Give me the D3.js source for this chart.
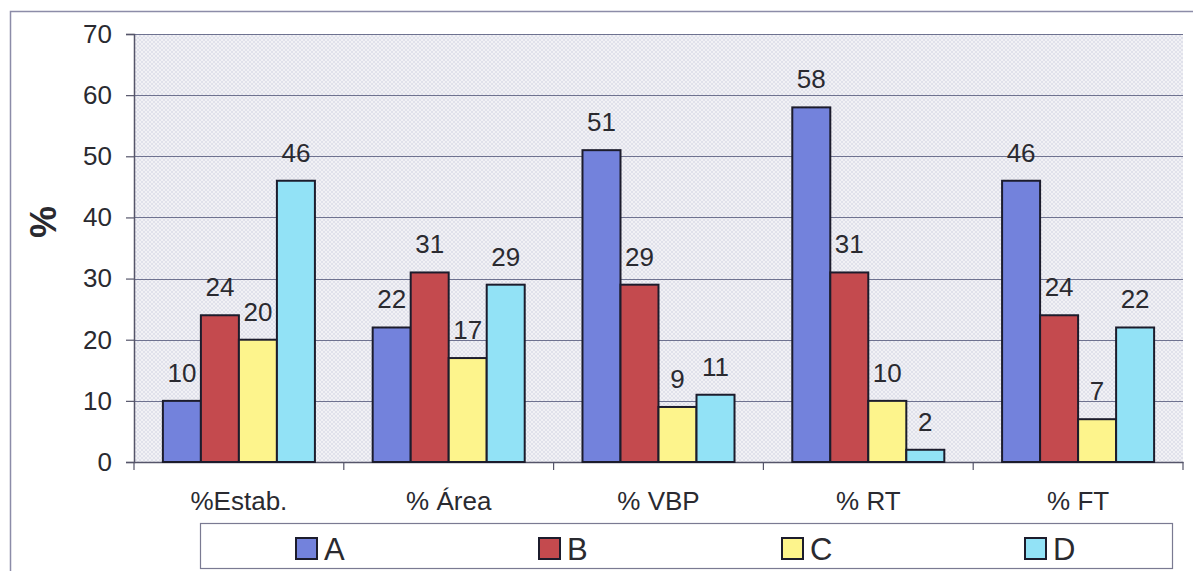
<!DOCTYPE html>
<html>
<head>
<meta charset="utf-8">
<script src="https://cdn.jsdelivr.net/npm/d3@7"></script>
<style>
  html, body { margin: 0; padding: 0; background: #fff; }
  svg { display: block; }
  text { font-family: "Liberation Sans", Arial, sans-serif; fill: #2a2a30; }
</style>
</head>
<body>
<svg id="chart" width="1193" height="571"></svg>
<script>
// Indicator categories along the x axis
const categories = ["%Estab.", "% Área", "% VBP", "% RT", "% FT"];
// Group names (one bar per group in every category)
const seriesNames = ["A", "B", "C", "D"];
// Percent values per group, in category order
const valuesA = [10, 22, 51, 58, 46];
const valuesB = [24, 31, 29, 31, 24];
const valuesC = [20, 17, 9, 10, 7];
const valuesD = [46, 29, 11, 2, 22];
// Y axis ticks
const yTicks = [0, 10, 20, 30, 40, 50, 60, 70];

const seriesValues = [valuesA, valuesB, valuesC, valuesD];
const colors = ["#7382dc", "#c44a4e", "#fdf48c", "#92e2f6"];

const svg = d3.select("#chart");
const W = 1193, H = 571;
const plot = { left: 134, right: 1183, top: 34, bottom: 462 };
const fontSize = "26px";

// outer chart frame
svg.append("rect")
  .attr("x", 10.5).attr("y", 11.5)
  .attr("width", W).attr("height", H)
  .attr("fill", "#fff").attr("stroke", "#8c8ca8").attr("stroke-width", 1.5);

// fine cross-hatch texture for the plot background
const defs = svg.append("defs");
const pat = defs.append("pattern")
  .attr("id", "hatch").attr("width", 4).attr("height", 4)
  .attr("patternUnits", "userSpaceOnUse");
pat.append("rect").attr("width", 4).attr("height", 4).attr("fill", "#f1f1f5");
pat.append("path").attr("d", "M0,0 L4,4 M4,0 L0,4")
  .attr("stroke", "#dcdde8").attr("stroke-width", 0.8);

const x0 = d3.scaleBand().domain(categories)
  .range([plot.left, plot.right]).paddingInner(0).paddingOuter(0);
const x1 = d3.scaleBand().domain(seriesNames)
  .range([0, x0.bandwidth()]).paddingOuter(0.76).paddingInner(0);
const y = d3.scaleLinear().domain([0, 70]).range([plot.bottom, plot.top]);

svg.append("rect")
  .attr("x", plot.left).attr("y", plot.top)
  .attr("width", plot.right - plot.left).attr("height", plot.bottom - plot.top)
  .attr("fill", "url(#hatch)");

// horizontal gridlines
svg.append("g").selectAll("line")
  .data(yTicks.filter(t => t > 0))
  .join("line")
  .attr("x1", plot.left).attr("x2", plot.right)
  .attr("y1", d => Math.round(y(d)) + 0.5).attr("y2", d => Math.round(y(d)) + 0.5)
  .attr("stroke", "#6e7290").attr("stroke-width", 1.2);

// y axis
const yAxis = svg.append("g")
  .attr("transform", `translate(${plot.left},0)`)
  .call(d3.axisLeft(y).tickValues(yTicks).tickSize(8).tickPadding(14));
yAxis.select(".domain").attr("stroke", "#55556a").attr("stroke-width", 1.5);
yAxis.selectAll(".tick line").attr("stroke", "#55556a").attr("stroke-width", 1.2);
yAxis.selectAll(".tick text")
  .style("font-family", "'Liberation Sans', Arial, sans-serif")
  .style("font-size", fontSize).attr("fill", "#2a2a30");

// x axis
const xAxis = svg.append("g")
  .attr("transform", `translate(0,${plot.bottom})`)
  .call(d3.axisBottom(x0).tickSize(0).tickPadding(30));
xAxis.select(".domain").attr("stroke", "#55556a").attr("stroke-width", 1.5);
xAxis.selectAll(".tick text")
  .style("font-family", "'Liberation Sans', Arial, sans-serif")
  .style("font-size", fontSize).attr("fill", "#2a2a30");
// category separator ticks
svg.append("g").selectAll("line")
  .data(d3.range(categories.length + 1))
  .join("line")
  .attr("x1", i => plot.left + i * x0.bandwidth())
  .attr("x2", i => plot.left + i * x0.bandwidth())
  .attr("y1", plot.bottom).attr("y2", plot.bottom + 8)
  .attr("stroke", "#55556a").attr("stroke-width", 1.2);

// y axis title
svg.append("text")
  .attr("transform", `translate(56,222) rotate(-90)`)
  .attr("text-anchor", "middle")
  .style("font-size", "36px").style("font-weight", "bold")
  .text("%");

// bars and value labels
const flat = [];
categories.forEach((c, ci) => {
  seriesNames.forEach((s, si) => {
    flat.push({ cat: c, series: s, si, value: seriesValues[si][ci] });
  });
});

const bars = svg.append("g");
bars.selectAll("rect")
  .data(flat)
  .join("rect")
  .attr("x", d => x0(d.cat) + x1(d.series))
  .attr("y", d => y(d.value))
  .attr("width", x1.bandwidth())
  .attr("height", d => y(0) - y(d.value))
  .attr("fill", d => colors[d.si])
  .attr("stroke", "#1c1c2c").attr("stroke-width", 2);

svg.append("g").selectAll("text")
  .data(flat)
  .join("text")
  .attr("x", d => x0(d.cat) + x1(d.series) + x1.bandwidth() / 2)
  .attr("y", d => y(d.value) - 19)
  .attr("text-anchor", "middle")
  .style("font-size", fontSize)
  .text(d => d.value);

// legend
const legend = { x: 200, y: 523, w: 972, h: 45 };
svg.append("rect")
  .attr("x", legend.x + 0.5).attr("y", legend.y + 0.5)
  .attr("width", legend.w).attr("height", legend.h)
  .attr("fill", "#fff").attr("stroke", "#7a7a92").attr("stroke-width", 1.2);

const itemW = legend.w / seriesNames.length;
const li = svg.append("g").selectAll("g")
  .data(seriesNames)
  .join("g")
  .attr("transform", (d, i) => `translate(${legend.x + 96 + i * itemW},${legend.y + 15})`);
li.append("rect")
  .attr("width", 21).attr("height", 21)
  .attr("fill", (d, i) => colors[i])
  .attr("stroke", "#1c1c2c").attr("stroke-width", 2);
li.append("text")
  .attr("x", 28).attr("y", 22)
  .style("font-size", "31px")
  .text(d => d);
</script>
</body>
</html>
